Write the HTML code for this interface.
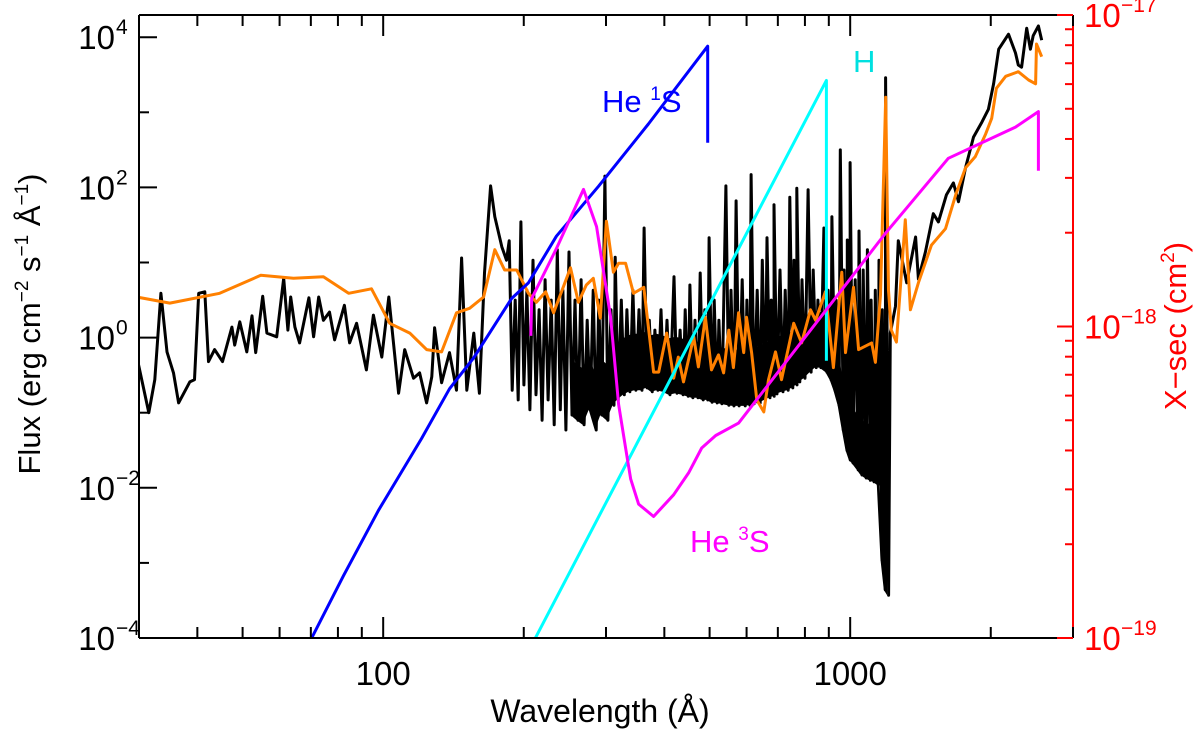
<!DOCTYPE html>
<html><head><meta charset="utf-8"><style>
html,body{margin:0;padding:0;background:#fff;}
svg{display:block;font-family:"Liberation Sans",Arial,sans-serif;}
</style></head><body>
<svg id="chart" width="1200" height="731" viewBox="0 0 1200 731">
<defs><clipPath id="plotClip"><rect x="139" y="15" width="934" height="623"/></clipPath></defs>
<g id="series" clip-path="url(#plotClip)"></g>
<g id="axes"></g>
</svg>
<script>
// ---- data (log10 wavelength in Å, log10 flux, log10 cross-section) ----
const xDomainLog = [Math.log10(30), Math.log10(3000)];
const yLeftTicksExp = [-4,-3,-2,-1,0,1,2,3,4];
const yLeftLabelExp = [-4,-2,0,2,4];
const yRightTicksExp = [-19,-18,-17];
const xMajorTicks = [100,1000];

const blackWaveA = [1.476,1.498,1.511,1.524,1.537,1.551,1.562,1.586,1.596,1.605,1.618,1.626,1.639,1.656,1.676,1.682,1.693,1.708,1.719,1.727,1.742,1.751,1.772,1.787,1.796,1.802,1.811,1.821,1.841,1.851,1.862,1.872,1.885,1.896,1.917,1.928,1.943,1.964,1.979,1.997,2.012,2.033,2.046,2.065,2.078,2.093,2.104,2.110,2.125,2.142,2.157,2.168,2.179,2.194,2.206,2.217,2.230,2.239,2.254,2.264];
const blackFluxA = [-0.36,-1.00,-0.56,0.59,-0.19,-0.47,-0.87,-0.59,-0.56,0.59,0.61,-0.32,-0.16,-0.32,0.14,-0.10,0.21,-0.19,0.29,-0.20,0.55,0.06,0.01,0.79,0.10,0.54,0.14,-0.07,0.53,0.01,0.54,0.23,0.34,-0.03,0.43,-0.07,0.19,-0.43,0.30,-0.26,0.54,-0.74,-0.16,-0.54,-0.47,-0.87,-0.52,0.13,-0.60,-0.20,-0.70,1.06,-0.70,0.06,-0.74,0.86,2.02,1.61,1.21,1.03];

const denseWave = [2.273,2.286,2.298,2.311,2.324,2.337,2.350,2.363,2.376,2.388,2.401,2.414,2.427,2.440,2.453,2.465,2.478,2.491,2.500,2.513,2.525,2.538,2.551,2.562,2.573,2.585,2.598,2.611,2.626,2.639,2.650,2.660,2.671,2.682,2.692,2.701,2.712,2.722,2.737,2.748,2.759,2.772,2.782,2.791,2.804,2.815,2.825,2.834,2.840,2.853,2.864,2.874,2.883,2.889,2.900,2.913,2.924,2.934,2.947,2.956,2.964,2.973,2.982,2.990,2.997,3.003,3.014,3.022,3.031,3.040,3.048,3.057,3.065,3.072,3.079];
const denseHi = [1.29,0.50,1.54,0.63,1.03,0.37,0.77,0.50,1.17,0.63,1.14,0.50,0.77,0.23,0.63,0.50,2.15,0.37,1.07,0.50,0.37,0.63,0.37,1.46,0.23,0.10,0.37,0.23,0.81,0.10,0.37,0.70,0.23,0.86,0.37,1.33,0.50,0.23,2.02,0.63,1.82,0.77,0.50,2.17,0.63,1.03,1.33,0.50,1.77,0.90,0.63,1.87,1.03,1.99,0.77,1.97,0.90,0.50,1.46,0.63,1.61,0.50,2.50,0.90,1.30,2.33,0.77,1.42,0.90,1.17,0.50,0.63,1.03,0.37,3.46];
const denseLo = [-0.70,-0.83,-0.63,-0.96,-0.76,-1.10,-0.83,-1.16,-0.96,-1.23,-1.03,-1.10,-1.16,-0.96,-1.23,-1.03,-1.10,-0.90,-0.83,-0.76,-0.72,-0.70,-0.70,-0.67,-0.72,-0.70,-0.72,-0.76,-0.74,-0.76,-0.78,-0.80,-0.80,-0.83,-0.83,-0.86,-0.87,-0.88,-0.90,-0.91,-0.91,-0.91,-0.90,-0.88,-0.87,-0.83,-0.80,-0.78,-0.75,-0.72,-0.70,-0.67,-0.63,-0.59,-0.54,-0.46,-0.40,-0.40,-0.46,-0.56,-0.70,-0.90,-1.23,-1.50,-1.63,-1.67,-1.76,-1.83,-1.87,-1.90,-1.92,-1.96,-2.96,-3.36,-3.43];

const blackWaveB = [3.086,3.097,3.103,3.121,3.140,3.146,3.161,3.178,3.189,3.206,3.221,3.232,3.247,3.264,3.282,3.296,3.307,3.318,3.339,3.354,3.360,3.367,3.378,3.386,3.392,3.403,3.410];
const blackFluxB = [0.06,0.42,1.29,0.73,1.34,0.78,1.14,1.65,1.54,1.90,2.06,1.81,2.26,2.67,2.87,3.04,3.38,3.84,4.04,3.79,3.63,3.60,4.12,3.84,4.02,4.15,3.96];

const orangeWave = [1.472,1.543,1.650,1.738,1.808,1.872,1.926,1.975,2.014,2.057,2.093,2.125,2.157,2.185,2.215,2.239,2.260,2.286,2.311,2.328,2.348,2.365,2.401,2.418,2.435,2.450,2.465,2.478,2.493,2.504,2.519,2.536,2.558,2.579,2.590,2.607,2.622,2.632,2.643,2.665,2.675,2.690,2.703,2.718,2.729,2.740,2.750,2.761,2.772,2.778,2.789,2.800,2.815,2.825,2.840,2.853,2.879,2.896,2.915,2.926,2.947,2.964,2.982,2.990,3.007,3.018,3.046,3.054,3.065,3.076,3.082,3.088,3.099,3.118,3.129,3.146,3.174,3.204,3.226,3.247,3.268,3.290,3.303,3.313,3.333,3.360,3.382,3.397,3.399,3.410];
const orangeFlux = [0.54,0.46,0.59,0.83,0.79,0.81,0.59,0.65,0.19,0.06,-0.16,-0.19,0.33,0.39,0.54,1.17,0.90,0.90,0.59,0.47,0.61,0.33,0.93,0.47,0.70,0.79,0.26,1.55,0.87,0.99,0.99,0.59,0.67,-0.46,-0.46,0.06,-0.54,-0.26,-0.59,0.01,-0.39,0.27,-0.43,-0.23,-0.47,0.10,-0.40,0.33,-0.20,0.27,-0.20,-0.83,-0.99,-0.56,-0.19,-0.56,0.19,-0.07,0.37,0.23,0.61,-0.40,0.87,-0.20,0.67,-0.16,-0.07,-0.33,0.57,3.20,0.63,0.10,-0.06,1.57,0.37,0.73,1.23,1.45,1.90,2.26,2.41,2.71,2.92,3.32,3.48,3.54,3.43,3.38,3.91,3.74];

const he1sWave = [1.847,1.915,1.990,2.082,2.142,2.194,2.275,2.311,2.371,2.461,2.568,2.695,2.695];
const he1sSigma = [-19.00,-18.80,-18.59,-18.36,-18.20,-18.10,-17.91,-17.86,-17.71,-17.55,-17.35,-17.10,-17.41];

const hWave = [2.326,2.949,2.949];
const hSigma = [-19.00,-17.21,-18.11];

const he3sWave = [2.316,2.318,2.371,2.429,2.457,2.487,2.504,2.519,2.530,2.547,2.579,2.622,2.654,2.682,2.712,2.761,3.076,3.210,3.354,3.403,3.403];
const he3sSigma = [-18.03,-17.91,-17.75,-17.56,-17.68,-17.97,-18.25,-18.39,-18.49,-18.57,-18.61,-18.54,-18.47,-18.39,-18.35,-18.31,-17.70,-17.46,-17.36,-17.31,-17.50];

// ---- scales ----
const X0 = 139, X1 = 1073, Y0 = 638, YT = 15;
function xs(lw){ return X0 + (lw - xDomainLog[0]) / (xDomainLog[1]-xDomainLog[0]) * (X1-X0); }
function yL(lf){ return 638 - (lf + 4) * 75.1; }
function yR(ls){ return 638 - (ls + 19) * 311.5; }

const NS = "http://www.w3.org/2000/svg";
const series = document.getElementById('series');
const axes = document.getElementById('axes');
function mk(tag, attrs, parent){ const e=document.createElementNS(NS,tag); for(const k in attrs) e.setAttribute(k,attrs[k]); parent.appendChild(e); return e; }
function poly(pts, color, w, name){
  const p = mk('polyline',{points:pts.map(q=>q[0].toFixed(1)+','+q[1].toFixed(1)).join(' '),fill:'none',stroke:color,'stroke-width':w,'stroke-linejoin':'round'},series);
  
  
  return p;
}

// black spectrum
const bpts = [];
blackWaveA.forEach((w,i)=>bpts.push([xs(w), yL(blackFluxA[i])]));
denseWave.forEach((w,i)=>{ const x=xs(w); bpts.push([x-1.5, yL(denseHi[i])]); bpts.push([x+1.5, yL(denseLo[i])]); });
blackWaveB.forEach((w,i)=>bpts.push([xs(w), yL(blackFluxB[i])]));
poly(bpts,'#000',3,'observed-spectrum-line');
{
  const lo=[], top=[];
  denseWave.forEach((w,i)=>{ if(w>2.40){ lo.push([xs(w), yL(denseLo[i])]); top.push([xs(w), yL(Math.min(denseHi[i], denseLo[i]+0.75))]); } });
  const pts = top.concat(lo.reverse());
  const f = mk('polygon',{points:pts.map(q=>q[0].toFixed(1)+','+q[1].toFixed(1)).join(' '),fill:'#000'},series);
  
  
}
poly(orangeWave.map((w,i)=>[xs(w), yL(orangeFlux[i])]),'#ff8000',3,'model-spectrum-line');
poly(he1sWave.map((w,i)=>[xs(w), yR(he1sSigma[i])]),'#0000ff',3,'he-1s-cross-section-line');
poly(hWave.map((w,i)=>[xs(w), yR(hSigma[i])]),'#00ffff',3,'h-cross-section-line');
poly(he3sWave.map((w,i)=>[xs(w), yR(he3sSigma[i])]),'#ff00ff',3,'he-3s-cross-section-line');

// ---- frame ----
mk('line',{x1:X0,y1:YT,x2:X1,y2:YT,stroke:'#000','stroke-width':2},axes);
mk('line',{x1:X0,y1:Y0,x2:X1,y2:Y0,stroke:'#000','stroke-width':2},axes);
mk('line',{x1:X0,y1:YT,x2:X0,y2:Y0,stroke:'#000','stroke-width':2},axes);
mk('line',{x1:X1,y1:YT,x2:X1,y2:Y0,stroke:'#f00','stroke-width':2},axes);

for(let d=1; d<=3; d++){ for(let m=1;m<=9;m++){ const v=m*Math.pow(10,d); const lw=Math.log10(v); if(lw<xDomainLog[0]-1e-6||lw>xDomainLog[1]+1e-6) continue; const x=xs(lw); const L=(m===1)?21:11;
  mk('line',{x1:x,y1:Y0,x2:x,y2:Y0-L,stroke:'#000','stroke-width':2},axes);
  mk('line',{x1:x,y1:YT,x2:x,y2:YT+L,stroke:'#000','stroke-width':2},axes); } }
xMajorTicks.forEach(v=>{ const t=mk('text',{x:xs(Math.log10(v)),y:685,'text-anchor':'middle','font-size':33,fill:'#000'},axes); t.textContent=String(v);
    });

yLeftTicksExp.forEach(e=>{ const y=yL(e); const major=yLeftLabelExp.includes(e); mk('line',{x1:X0,y1:y,x2:X0+(major?18:10),y2:y,stroke:'#000','stroke-width':2},axes); });
yLeftLabelExp.forEach(e=>{ const y=yL(e); const t=mk('text',{x:115,y:y+12,'text-anchor':'end','font-size':33,fill:'#000'},axes); t.textContent='10';
  const s=mk('text',{x:116,y:y-3,'text-anchor':'start','font-size':21,fill:'#000'},axes); s.textContent=(e<0?'\u2212':'')+Math.abs(e);
    });

yRightTicksExp.forEach(e=>{ const y=yR(e); mk('line',{x1:X1,y1:y,x2:X1-16,y2:y,stroke:'#f00','stroke-width':2},axes);
  if(e<-17){ for(let m=2;m<=9;m++){ const yy=yR(e+Math.log10(m)); mk('line',{x1:X1,y1:yy,x2:X1-8,y2:yy,stroke:'#f00','stroke-width':2},axes);} }
  const t=mk('text',{x:1084,y:y+12,'font-size':33,fill:'#f00'},axes); t.textContent='10';
  const s=mk('text',{x:1121,y:y-3,'font-size':21,fill:'#f00'},axes); s.textContent='\u2212'+Math.abs(e);
    });
</script>
<div style="position:absolute;left:0;top:0;width:1200px;height:731px;pointer-events:none">
<svg width="1200" height="731" style="font-family:'Liberation Sans',Arial,sans-serif">
<text x="600" y="722" text-anchor="middle" font-size="32" fill="#000">Wavelength (Å)</text>
<text transform="translate(40,324) rotate(-90)" text-anchor="middle" font-size="31" fill="#000">Flux (erg cm<tspan dy="-12" font-size="19">−2</tspan><tspan dy="12"> s</tspan><tspan dy="-12" font-size="19">−1</tspan><tspan dy="12"> Å</tspan><tspan dy="-12" font-size="19">−1</tspan><tspan dy="12">)</tspan></text>
<text transform="translate(1186,326) rotate(-90)" text-anchor="middle" font-size="31" fill="#f00">X−sec (cm<tspan dy="-12" font-size="19">2</tspan><tspan dy="12">)</tspan></text>
<text x="602" y="112" font-size="31" fill="#0000ff">He <tspan dy="-12" font-size="19">1</tspan><tspan dy="12">S</tspan></text>
<text x="853" y="72" font-size="31" fill="#00e0e0">H</text>
<text x="690" y="552" font-size="31" fill="#ff00ff">He <tspan dy="-12" font-size="19">3</tspan><tspan dy="12">S</tspan></text>
</svg></div>
</body></html>
